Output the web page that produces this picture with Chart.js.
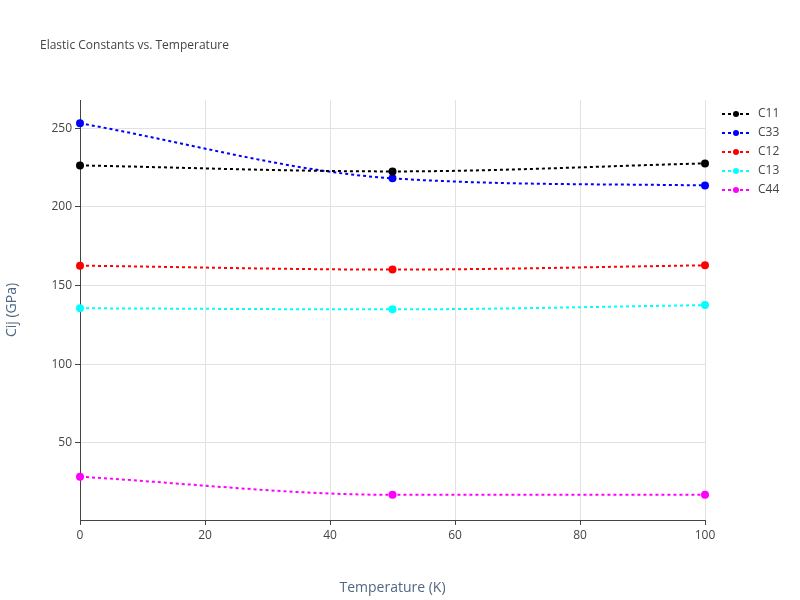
<!DOCTYPE html>
<html><head><meta charset="utf-8">
<script src="https://cdn.jsdelivr.net/npm/chart.js@4"></script>
<style>html,body{margin:0;padding:0;background:#fff}#w{width:800px;height:600px;position:relative}</style>
</head><body><div id="w"><canvas id="c" width="800" height="600"></canvas></div>
<script>
const temps = [0, 50, 100];
const seriesNames = ["C11", "C33", "C12", "C13", "C44"];
const C11 = [226.4, 222.6, 227.7];
const C33 = [253.2, 218.2, 213.7];
const C12 = [162.7, 160.2, 162.9];
const C13 = [135.6, 134.9, 137.6];
const C44 = [28.5, 17.0, 17.0];
const colors = ["#000000", "#0000ff", "#ff0000", "#00ffff", "#ff00ff"];
const values = [C11, C33, C12, C13, C44];
const font = "'Open Sans', 'Liberation Sans', sans-serif";
const datasets = seriesNames.map((n, i) => ({
  label: n,
  data: temps.map((t, j) => ({x: t, y: values[i][j]})),
  borderColor: colors[i], backgroundColor: colors[i],
  borderDash: [3, 3], borderWidth: 2, pointRadius: 3, pointHoverRadius: 3,
  tension: 0.35, cubicInterpolationMode: 'monotone', clip: false
}));
const overlay = {
  id: 'overlay',
  afterDraw(ch) {
    const c = ch.ctx;
    c.save();
    c.fillStyle = '#444'; c.font = "12px " + font; c.textBaseline = 'middle';
    c.fillText('Elastic Constants vs. Temperature', 40, 46);
    seriesNames.forEach((n, i) => {
      const y = 114 + i * 19;
      c.strokeStyle = colors[i]; c.lineWidth = 2; c.setLineDash([3, 3]);
      c.beginPath(); c.moveTo(722, y); c.lineTo(750, y); c.stroke();
      c.setLineDash([]); c.fillStyle = colors[i];
      c.beginPath(); c.arc(736, y, 3, 0, Math.PI * 2); c.fill();
      c.fillStyle = '#444'; c.fillText(n, 758, y);
    });
    c.restore();
  }
};
new Chart(document.getElementById('c'), {
  type: 'line',
  data: {datasets},
  plugins: [overlay],
  options: {
    responsive: false, animation: false,
    layout: {padding: {left: 0, right: 95, top: 100, bottom: 0}},
    plugins: {legend: {display: false}, title: {display: false}, tooltip: {enabled: false}},
    scales: {
      x: {type: 'linear', min: 0, max: 100,
        afterFit: s => { s.height = 80; },
        ticks: {stepSize: 20, color: '#444', font: {family: font, size: 12}},
        grid: {color: '#e2e2e2', drawTicks: true, tickColor: '#444', tickLength: 5},
        border: {color: '#444', width: 1},
        title: {display: true, text: 'Temperature (K)', color: '#506784', font: {family: font, size: 14}, padding: {top: 14}}},
      y: {min: 1, max: 268,
        afterFit: s => { s.width = 80; },
        afterBuildTicks: (ax) => { ax.ticks = [50,100,150,200,250].map(v => ({value: v})); },
        ticks: {color: '#444', font: {family: font, size: 12}},
        grid: {color: '#e2e2e2', tickColor: '#444', tickLength: 5},
        border: {color: '#444', width: 1},
        title: {display: true, text: 'Cij (GPa)', color: '#506784', font: {family: font, size: 14}, padding: {bottom: 18}}}
    }
  }
});
</script></body></html>
